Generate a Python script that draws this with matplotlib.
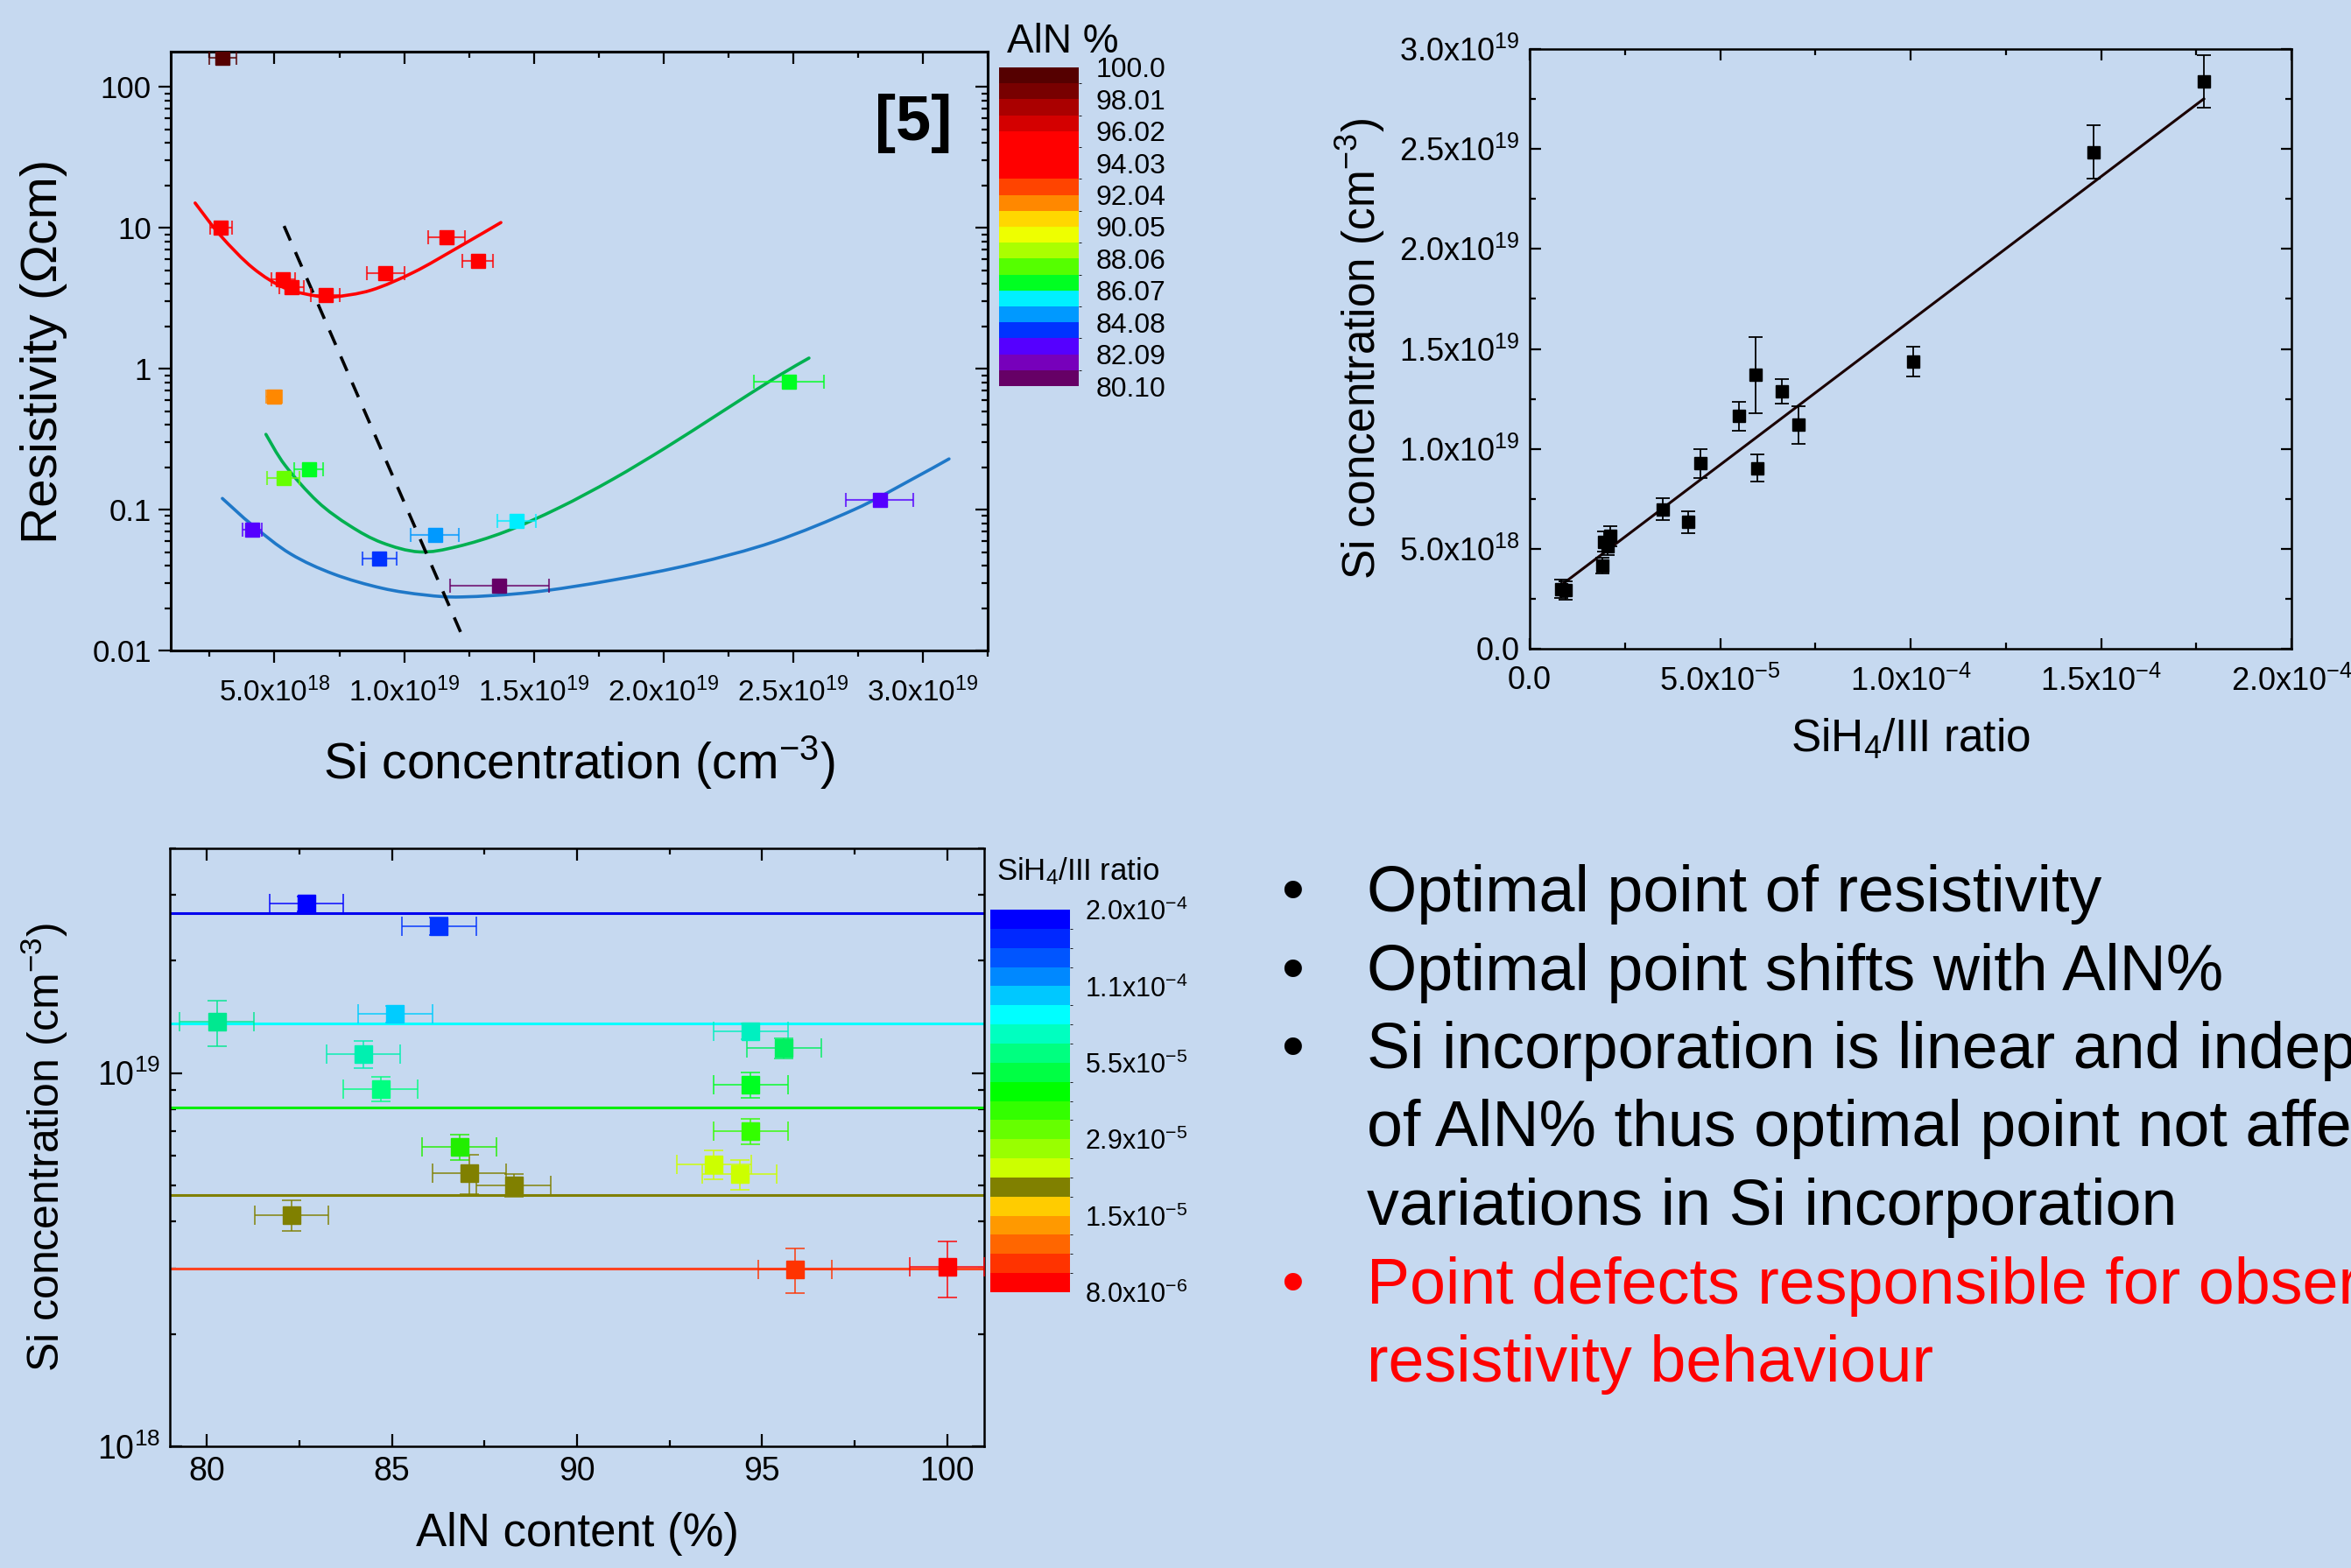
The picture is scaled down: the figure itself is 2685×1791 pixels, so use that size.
import numpy as np
import matplotlib
matplotlib.use("Agg")
from matplotlib import pyplot as plt
from matplotlib import cm
from matplotlib.colors import ListedColormap, BoundaryNorm, to_rgba
from matplotlib.path import Path
from matplotlib.patches import PathPatch
from matplotlib.ticker import MultipleLocator, LogLocator, NullFormatter, FixedLocator

plt.rcParams["font.family"] = ["Liberation Sans", "DejaVu Sans"]
plt.rcParams["mathtext.fontset"] = "custom"
plt.rcParams["mathtext.rm"] = "Liberation Sans"
plt.rcParams["mathtext.it"] = "Liberation Sans:italic"
plt.rcParams["mathtext.bf"] = "Liberation Sans:bold"

BG = "#c6d9f0"

# ---- resistivity vs Si concentration (top left) ----
res_si = [3.0e18, 2.93e18, 5.33e18, 5.66e18, 6.97e18, 9.28e18, 11.64e18, 12.84e18,
          4.98e18, 5.35e18, 6.32e18, 24.85e18, 4.13e18, 9.04e18, 11.19e18, 14.35e18,
          13.67e18, 28.34e18]
res_val = [162, 10.0, 4.33, 3.80, 3.31, 4.75, 8.59, 5.80,
           0.63, 0.168, 0.192, 0.81, 0.072, 0.0448, 0.066, 0.083,
           0.029, 0.117]
res_xerr = [0.52e18, 0.42e18, 0.46e18, 0.46e18, 0.56e18, 0.72e18, 0.72e18, 0.60e18,
            0.31e18, 0.62e18, 0.56e18, 1.35e18, 0.37e18, 0.66e18, 0.93e18, 0.74e18,
            1.9e18, 1.3e18]
res_colors = ["#550000", "#ff0000", "#ff0000", "#ff0000", "#ff0000", "#ff0000", "#ff0000", "#ff0000",
              "#ff8800", "#66ff00", "#00ff22", "#00ff22", "#5500ff", "#0033ff", "#0099ff", "#00eeff",
              "#660066", "#5500ff"]

red_fit_x = [1.94e18, 2.93e18, 4.17e18, 5.41e18, 6.66e18, 7.28e18, 8.73e18, 10.38e18, 12.04e18, 13.73e18]
red_fit_y = [15.0, 8.77, 5.18, 3.73, 3.27, 3.23, 3.61, 4.85, 7.19, 10.9]
green_fit_x = [4.67e18, 5.41e18, 6.66e18, 7.90e18, 9.14e18, 10.59e18, 12.04e18, 13.90e18,
               15.97e18, 18.04e18, 20.11e18, 22.18e18, 24.25e18, 25.61e18]
green_fit_y = [0.342, 0.206, 0.114, 0.0769, 0.0583, 0.0501, 0.0546, 0.0697,
               0.103, 0.164, 0.277, 0.485, 0.849, 1.19]
blue_fit_x = [2.99e18, 4.17e18, 5.62e18, 7.28e18, 9.14e18, 10.79e18, 12.24e18, 14.93e18,
              18.04e18, 21.14e18, 24.25e18, 27.35e18, 29.42e18, 31.01e18]
blue_fit_y = [0.120, 0.0769, 0.0485, 0.0349, 0.0277, 0.0248, 0.0240, 0.0259,
              0.0316, 0.0411, 0.0591, 0.100, 0.158, 0.229]
trend_x = [5.37e18, 12.35e18]
trend_y = [10.3, 0.0114]

res_xticks = [5e18, 1e19, 1.5e19, 2e19, 2.5e19, 3e19]
res_xticklabels = ["5.0x10$^{18}$", "1.0x10$^{19}$", "1.5x10$^{19}$",
                   "2.0x10$^{19}$", "2.5x10$^{19}$", "3.0x10$^{19}$"]
res_yticks = [0.01, 0.1, 1, 10, 100]
res_yticklabels = ["0.01", "0.1", "1", "10", "100"]

aln_colors = ["#550000", "#780000", "#aa0000", "#d40000", "#ff0000", "#ff0000", "#ff0000",
              "#ff4400", "#ff8800", "#ffd700", "#eeff00", "#aaff00", "#55ff00", "#00ff22",
              "#00f0ff", "#0099ff", "#0033ff", "#5500ff", "#7700bb", "#660066"]
aln_ticklabels = ["80.10", "82.09", "84.08", "86.07", "88.06", "90.05",
                  "92.04", "94.03", "96.02", "98.01", "100.0"]

# ---- Si concentration vs SiH4/III ratio (top right) ----
ratio = [0.818e-5, 0.948e-5, 1.90e-5, 1.96e-5, 2.11e-5, 2.05e-5, 3.50e-5, 4.15e-5, 4.48e-5,
         5.49e-5, 5.93e-5, 5.98e-5, 6.61e-5, 7.06e-5, 10.08e-5, 14.80e-5, 17.70e-5]
ratio_si = [2.99e18, 2.93e18, 4.15e18, 5.35e18, 5.63e18, 5.13e18, 6.97e18, 6.33e18, 9.28e18,
            11.64e18, 13.69e18, 9.04e18, 12.88e18, 11.20e18, 14.37e18, 24.85e18, 28.38e18]
ratio_si_err = [0.46e18, 0.46e18, 0.39e18, 0.5e18, 0.5e18, 0.45e18, 0.55e18, 0.55e18, 0.72e18,
                0.72e18, 1.91e18, 0.68e18, 0.63e18, 0.94e18, 0.74e18, 1.35e18, 1.33e18]
lin_fit_x = [0.818e-5, 17.70e-5]
lin_fit_y = [3.17e18, 27.51e18]

ratio_xticks = [0, 5e-5, 1e-4, 1.5e-4, 2e-4]
ratio_xticklabels = ["0.0", "5.0x10$^{-5}$", "1.0x10$^{-4}$", "1.5x10$^{-4}$", "2.0x10$^{-4}$"]
ratio_yticks = [0, 5e18, 1e19, 1.5e19, 2e19, 2.5e19, 3e19]
ratio_yticklabels = ["0.0", "5.0x10$^{18}$", "1.0x10$^{19}$", "1.5x10$^{19}$",
                     "2.0x10$^{19}$", "2.5x10$^{19}$", "3.0x10$^{19}$"]

# ---- Si concentration vs AlN content (bottom left) ----
aln = [82.69, 86.27, 80.27, 85.09, 94.69, 95.59, 84.23, 84.69, 94.69,
       94.69, 86.82, 93.70, 94.39, 87.09, 88.29, 82.29, 95.89, 100.0]
aln_si = [2.84e19, 2.48e19, 1.37e19, 1.44e19, 1.295e19, 1.166e19, 1.124e19, 9.08e18, 9.3e18,
          7.0e18, 6.35e18, 5.69e18, 5.36e18, 5.38e18, 5.01e18, 4.17e18, 2.98e18, 3.02e18]
aln_xerr = [1.0] * 18
aln_si_err = [1.33e18, 1.35e18, 1.91e18, 0.74e18, 0.63e18, 0.72e18, 0.94e18, 0.68e18, 0.72e18,
              0.55e18, 0.50e18, 0.50e18, 0.50e18, 0.65e18, 0.35e18, 0.39e18, 0.41e18, 0.51e18]
aln_pt_colors = ["#0000ff", "#0033ff", "#00e890", "#00ccff", "#00f0c0", "#00f060", "#00f0b0",
                 "#00ff80", "#00ff22", "#33ff00", "#22ee00", "#ccff00", "#ccff00", "#808000",
                 "#808000", "#808000", "#ff3300", "#ff0000"]
level_si = [2.68e19, 1.36e19, 8.07e18, 4.72e18, 3.0e18]
level_colors = ["#0000ee", "#00ffff", "#00ee00", "#808000", "#ff4422"]

sih4_colors = ["#0000ff", "#0028ff", "#0055ff", "#0088ff", "#00c8ff", "#00ffff", "#00ffc0",
               "#00ff80", "#00ff44", "#00ff00", "#33ff00", "#66ff00", "#99ff00", "#ccff00",
               "#808000", "#ffcc00", "#ff9900", "#ff6600", "#ff3300", "#ff0000"]
sih4_ticklabels = ["8.0x10$^{-6}$", "1.5x10$^{-5}$", "2.9x10$^{-5}$",
                   "5.5x10$^{-5}$", "1.1x10$^{-4}$", "2.0x10$^{-4}$"]

bullets = [
    ("Optimal point of resistivity", True, "black"),
    ("Optimal point shifts with AlN%", True, "black"),
    ("Si incorporation is linear and independent", True, "black"),
    ("of AlN% thus optimal point not affected by", False, "black"),
    ("variations in Si incorporation", False, "black"),
    ("Point defects responsible for observed", True, "red"),
    ("resistivity behaviour", False, "red"),
]

W, H = 2685, 1791
fig = plt.figure(figsize=(W / 100, H / 100), dpi=100, facecolor=BG)


def box(x0, y0, x1, y1):
    return [x0 / W, 1 - y1 / H, (x1 - x0) / W, (y1 - y0) / H]


def light(c, a=0.75):
    return to_rgba(c, a)


def style_spines(ax, lw):
    ax.set_facecolor(BG)
    for s in ax.spines.values():
        s.set_linewidth(lw)


def smooth_curve(ax, xs, ys, color, lw):
    # bezier through the read points (drawn in x / log10(y) space)
    p = np.column_stack([np.asarray(xs, float), np.log10(ys)])
    n = len(p)
    verts, codes = [p[0]], [Path.MOVETO]
    for i in range(n - 1):
        a = p[max(i - 1, 0)]
        d = p[min(i + 2, n - 1)]
        verts += [p[i] + (p[i + 1] - a) / 6, p[i + 1] - (d - p[i]) / 6, p[i + 1]]
        codes += [Path.CURVE4] * 3
    verts = np.array(verts)
    verts[:, 1] = 10 ** verts[:, 1]
    ax.add_patch(PathPatch(Path(verts, codes), fill=False, edgecolor=color,
                           lw=lw, capstyle="round", zorder=3))


# top left
ax1 = fig.add_axes(box(195, 59, 1128, 743))
style_spines(ax1, 2.2)
for i in range(len(res_si)):
    ax1.errorbar(res_si[i], res_val[i], xerr=res_xerr[i], fmt="s", ms=11,
                 color=res_colors[i], ecolor=light(res_colors[i]), elinewidth=1.5,
                 capsize=6, capthick=1.5, zorder=4)
ax1.set_yscale("log")
smooth_curve(ax1, red_fit_x, red_fit_y, "#ff0000", 2.6)
smooth_curve(ax1, green_fit_x, green_fit_y, "#00b050", 2.6)
smooth_curve(ax1, blue_fit_x, blue_fit_y, "#1f78c8", 2.6)
ax1.plot(trend_x, trend_y, color="black", lw=2.6, ls=(0, (5, 4)), zorder=3)
ax1.set_xlim(1e18, 3.25e19)
ax1.set_ylim(0.01, 178)
ax1.set_xticks(res_xticks)
ax1.set_xticklabels(res_xticklabels)
ax1.xaxis.set_minor_locator(MultipleLocator(2.5e18))
ax1.set_yticks(res_yticks)
ax1.set_yticklabels(res_yticklabels)
ax1.yaxis.set_minor_locator(LogLocator(subs=np.arange(2, 10)))
ax1.yaxis.set_minor_formatter(NullFormatter())
ax1.tick_params(which="both", direction="out", top=False, right=False, width=1.6)
ax1.tick_params(which="major", length=10)
ax1.tick_params(which="minor", length=5)
ax1.tick_params(axis="x", labelsize=24, pad=12)
ax1.tick_params(axis="y", labelsize=25, pad=6)
sx = ax1.secondary_xaxis("top")
sx.set_xticks(res_xticks)
sx.xaxis.set_minor_locator(MultipleLocator(2.5e18))
sx.tick_params(which="both", direction="in", labeltop=False, width=1.6)
sx.tick_params(which="major", length=10)
sx.tick_params(which="minor", length=5)
sx.spines["top"].set_linewidth(2.2)
sy = ax1.secondary_yaxis("right")
sy.yaxis.set_major_locator(FixedLocator(res_yticks))
sy.yaxis.set_minor_locator(LogLocator(subs=np.arange(2, 10)))
sy.yaxis.set_minor_formatter(NullFormatter())
sy.tick_params(which="both", direction="in", labelright=False, width=1.6)
sy.tick_params(which="major", length=10)
sy.tick_params(which="minor", length=5)
sy.spines["right"].set_linewidth(2.2)
ax1.set_xlabel("Si concentration (cm$^{-3}$)", fontsize=41, labelpad=22)
ax1.set_ylabel("Resistivity (\u03a9cm)", fontsize=42, labelpad=20)
ax1.text(0.909, 0.88, "[5]", transform=ax1.transAxes, fontsize=52,
         fontweight="bold", ha="center", va="center")

cmap1 = ListedColormap(aln_colors[::-1])
norm1 = BoundaryNorm(np.arange(len(aln_colors) + 1), cmap1.N)
cax1 = fig.add_axes(box(1141, 77, 1232, 441))
cb1 = fig.colorbar(cm.ScalarMappable(norm=norm1, cmap=cmap1), cax=cax1,
                   ticks=np.arange(0, len(aln_colors) + 1, 2))
cb1.set_ticklabels(aln_ticklabels)
cb1.outline.set_visible(False)
cax1.tick_params(length=0, labelsize=23, pad=14)
fig.text(1150 / W, 1 - 60 / H, "AlN %", fontsize=33, ha="left", va="baseline")

# top right
ax2 = fig.add_axes(box(1747, 56, 2617, 741))
style_spines(ax2, 1.8)
ax2.errorbar(ratio, ratio_si, yerr=ratio_si_err, fmt="s", ms=10, color="black",
             elinewidth=1.3, capsize=6, capthick=1.3, zorder=4)
ax2.plot(lin_fit_x, lin_fit_y, color="#1a0000", lw=2.2, zorder=3)
ax2.set_xlim(0, 2e-4)
ax2.set_ylim(0, 3e19)
ax2.set_xticks(ratio_xticks)
ax2.set_xticklabels(ratio_xticklabels)
ax2.set_yticks(ratio_yticks)
ax2.set_yticklabels(ratio_yticklabels)
ax2.xaxis.set_minor_locator(MultipleLocator(2.5e-5))
ax2.yaxis.set_minor_locator(MultipleLocator(2.5e18))
ax2.tick_params(which="both", direction="in", top=True, right=True, width=1.6)
ax2.tick_params(which="major", length=9)
ax2.tick_params(which="minor", length=5)
ax2.tick_params(labelsize=26, pad=8)
ax2.tick_params(axis="x", pad=14)
ax2.set_xlabel("SiH$_4$/III ratio", fontsize=37, labelpad=16)
ax2.set_ylabel("Si concentration (cm$^{-3}$)", fontsize=37, labelpad=10)

# bottom left
ax3 = fig.add_axes(box(194, 969, 1124, 1652))
style_spines(ax3, 1.8)
for y, c in zip(level_si, level_colors):
    ax3.axhline(y, color=c, lw=2.2, zorder=2)
for i in range(len(aln)):
    ax3.errorbar(aln[i], aln_si[i], xerr=aln_xerr[i], yerr=aln_si_err[i], fmt="s", ms=14,
                 color=aln_pt_colors[i], ecolor=light(aln_pt_colors[i]), elinewidth=1.4,
                 capsize=8, capthick=1.4, zorder=4)
ax3.set_yscale("log")
ax3.set_xlim(79, 101)
ax3.set_ylim(1e18, 4e19)
ax3.set_xticks([80, 85, 90, 95, 100])
ax3.xaxis.set_minor_locator(MultipleLocator(2.5))
ax3.set_yticks([1e18, 1e19])
ax3.set_yticklabels(["10$^{18}$", "10$^{19}$"])
ax3.yaxis.set_minor_locator(LogLocator(subs=np.arange(2, 10)))
ax3.yaxis.set_minor_formatter(NullFormatter())
ax3.tick_params(which="both", direction="in", top=True, right=True, width=1.6)
ax3.tick_params(which="major", length=10)
ax3.tick_params(which="minor", length=5)
ax3.tick_params(labelsize=27, pad=8)
ax3.set_xlabel("AlN content (%)", fontsize=38, labelpad=20)
ax3.set_ylabel("Si concentration (cm$^{-3}$)", fontsize=36, labelpad=22)

cmap2 = ListedColormap(sih4_colors[::-1])
norm2 = BoundaryNorm(np.arange(len(sih4_colors) + 1), cmap2.N)
cax2 = fig.add_axes(box(1131, 1039, 1222, 1476))
cb2 = fig.colorbar(cm.ScalarMappable(norm=norm2, cmap=cmap2), cax=cax2,
                   ticks=np.arange(0, len(sih4_colors) + 1, 4))
cb2.set_ticklabels(sih4_ticklabels)
cb2.outline.set_visible(False)
cax2.tick_params(length=0, labelsize=22, pad=12)
fig.text(1138 / W, 1 - 1005 / H, "SiH$_4$/III ratio", fontsize=25, ha="left", va="baseline")

# bullet text
y0, dy = 1041, 89.5
for k, (line, dot, col) in enumerate(bullets):
    yb = 1 - (y0 + k * dy) / H
    if dot:
        fig.text(1476 / W, yb, "\u2022", fontsize=53, color=col, ha="center", va="baseline")
    fig.text(1561 / W, yb, line, fontsize=53, color=col, ha="left", va="baseline")

fig.savefig("out.png", dpi=100, facecolor=BG)
